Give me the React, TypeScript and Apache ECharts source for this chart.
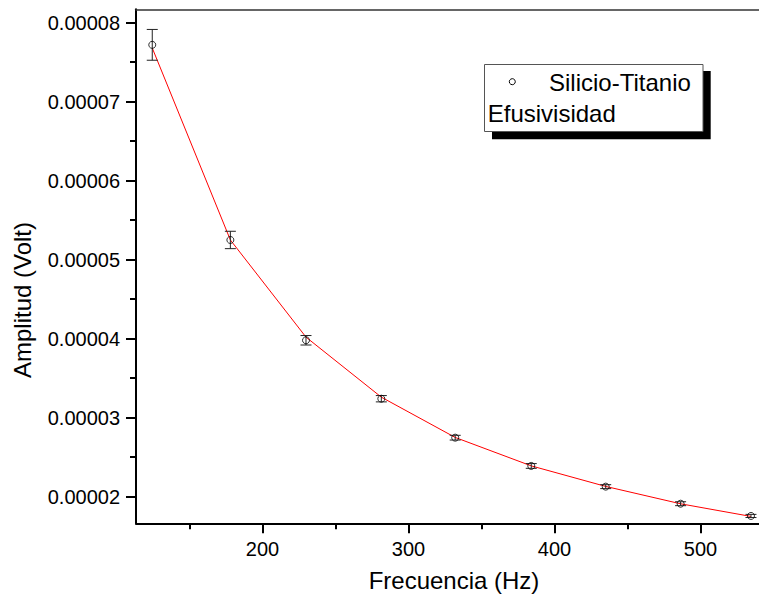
import React, { useEffect, useRef } from "react";
import * as echarts from "echarts";

const FREQ = [124.5, 178, 229.8, 281.4, 332, 384.1, 435.1, 486.4, 534.6];
const AMP = [7.72e-5, 5.25e-5, 3.98e-5, 3.24e-5, 2.747e-5, 2.389e-5, 2.127e-5, 1.911e-5, 1.756e-5];
const ERR = [1.95e-6, 1.1e-6, 0.6e-6, 0.4e-6, 0.3e-6, 0.3e-6, 0.25e-6, 0.25e-6, 0.2e-6];
const FIT = [7.68e-5, 5.25e-5, 4.02e-5, 3.26e-5, 2.75e-5, 2.39e-5, 2.13e-5, 1.91e-5, 1.75e-5];

const X_MAJOR = [200, 300, 400, 500];
const X_MINOR = [150, 250, 350, 450];
const Y_MAJOR = [0.00002, 0.00003, 0.00004, 0.00005, 0.00006, 0.00007, 0.00008];
const Y_MINOR = [0.000025, 0.000035, 0.000045, 0.000055, 0.000065, 0.000075];

const X_MIN = 113.36;
const X_MAX = 540.1;
const Y_MIN = 0.00001663;
const Y_MAX = 0.0000817;

const FONT = "'Liberation Sans', Arial, sans-serif";

export default function App() {
  const ref = useRef<HTMLDivElement>(null);
  useEffect(() => {
    if (!ref.current) return;
    const chart = echarts.init(ref.current, null, { renderer: "svg" });
    const tickStyle = { color: "#000", width: 2 };
    const option: any = {
      animation: false,
      backgroundColor: "#fff",
      grid: { left: 136, top: 9.3, right: 0, bottom: 78.7, containLabel: false },
      xAxis: [
        {
          type: "value", position: "bottom", min: X_MIN, max: X_MAX,
          axisLine: { show: true, onZero: false, lineStyle: { color: "#000", width: 2 } },
          axisTick: { show: true, inside: false, length: 10, lineStyle: tickStyle, customValues: X_MAJOR },
          axisLabel: { show: true, customValues: X_MAJOR, margin: 16, fontSize: 20, color: "#000", fontFamily: FONT },
          splitLine: { show: false },
        },
        {
          type: "value", position: "bottom", min: X_MIN, max: X_MAX,
          axisLine: { show: false },
          axisTick: { show: true, inside: false, length: 6, lineStyle: tickStyle, customValues: X_MINOR },
          axisLabel: { show: false },
          splitLine: { show: false },
        },
        {
          type: "value", position: "top", min: X_MIN, max: X_MAX,
          axisLine: { show: true, onZero: false, lineStyle: { color: "#333", width: 1.5 } },
          axisTick: { show: false },
          axisLabel: { show: false },
          splitLine: { show: false },
        },
      ],
      yAxis: [
        {
          type: "value", position: "left", min: Y_MIN, max: Y_MAX,
          axisLine: { show: true, onZero: false, lineStyle: { color: "#000", width: 2 } },
          axisTick: { show: true, inside: false, length: 10, lineStyle: tickStyle, customValues: Y_MAJOR },
          axisLabel: {
            show: true, customValues: Y_MAJOR, margin: 16, fontSize: 20, color: "#000", fontFamily: FONT,
            formatter: (v: number) => v.toFixed(5),
          },
          splitLine: { show: false },
        },
        {
          type: "value", position: "left", min: Y_MIN, max: Y_MAX,
          axisLine: { show: false },
          axisTick: { show: true, inside: false, length: 6, lineStyle: tickStyle, customValues: Y_MINOR },
          axisLabel: { show: false },
          splitLine: { show: false },
        },
      ],
      series: [
        {
          type: "line",
          xAxisIndex: 0, yAxisIndex: 0,
          data: FREQ.map((f, i) => [f, FIT[i]]),
          showSymbol: false,
          symbol: "none",
          smooth: false,
          lineStyle: { color: "#ff0000", width: 1 },
          z: 2,
        },
        {
          type: "custom",
          xAxisIndex: 0, yAxisIndex: 0,
          data: FREQ.map((f, i) => [f, AMP[i] - ERR[i], AMP[i] + ERR[i]]),
          encode: { x: 0, y: [1, 2] },
          renderItem: (params: any, api: any) => {
            const x = api.value(0);
            const lo = api.value(1);
            const hi = api.value(2);
            const p1 = api.coord([x, hi]);
            const p2 = api.coord([x, lo]);
            const w = 5.5;
            const style = { stroke: "#222", lineWidth: 1 };
            return {
              type: "group",
              children: [
                { type: "line", shape: { x1: p1[0], y1: p1[1], x2: p2[0], y2: p2[1] }, style },
                { type: "line", shape: { x1: p1[0] - w, y1: p1[1], x2: p1[0] + w, y2: p1[1] }, style },
                { type: "line", shape: { x1: p2[0] - w, y1: p2[1], x2: p2[0] + w, y2: p2[1] }, style },
              ],
            };
          },
          z: 3,
        },
        {
          type: "scatter",
          xAxisIndex: 0, yAxisIndex: 0,
          data: FREQ.map((f, i) => [f, AMP[i]]),
          symbol: "circle",
          symbolSize: 7,
          itemStyle: { color: "rgba(0,0,0,0)", borderColor: "#000", borderWidth: 1 },
          z: 4,
        },
      ],
      graphic: [
        { type: "rect", shape: { x: 492, y: 71, width: 218.7, height: 68.3 }, style: { fill: "#000" }, z: 10 },
        { type: "rect", shape: { x: 484.5, y: 64.5, width: 218.5, height: 67 }, style: { fill: "#fff", stroke: "#555", lineWidth: 1 }, z: 11 },
        { type: "circle", shape: { cx: 512.3, cy: 81.7, r: 3 }, style: { fill: "none", stroke: "#000", lineWidth: 1 }, z: 12 },
        { type: "text", x: 549, y: 82.7, style: { text: "Silicio-Titanio", fontSize: 24, fontFamily: FONT, fill: "#000", align: "left", verticalAlign: "middle" }, z: 12 },
        { type: "text", x: 487.7, y: 113.4, style: { text: "Efusivisidad", fontSize: 24, fontFamily: FONT, fill: "#000", align: "left", verticalAlign: "middle" }, z: 12 },
        { type: "text", x: 454, y: 580, style: { text: "Frecuencia (Hz)", fontSize: 24, fontFamily: FONT, fill: "#000", align: "center", verticalAlign: "middle" }, z: 12 },
        { type: "text", x: 22, y: 300, rotation: Math.PI / 2, style: { text: "Amplitud (Volt)", fontSize: 24, fontFamily: FONT, fill: "#000", align: "center", verticalAlign: "middle" }, z: 12 },
      ],
    };
    chart.setOption(option);
    return () => chart.dispose();
  }, []);
  return <div ref={ref} style={{ position: "fixed", left: 0, top: 0, width: 759, height: 602 }} />;
}
